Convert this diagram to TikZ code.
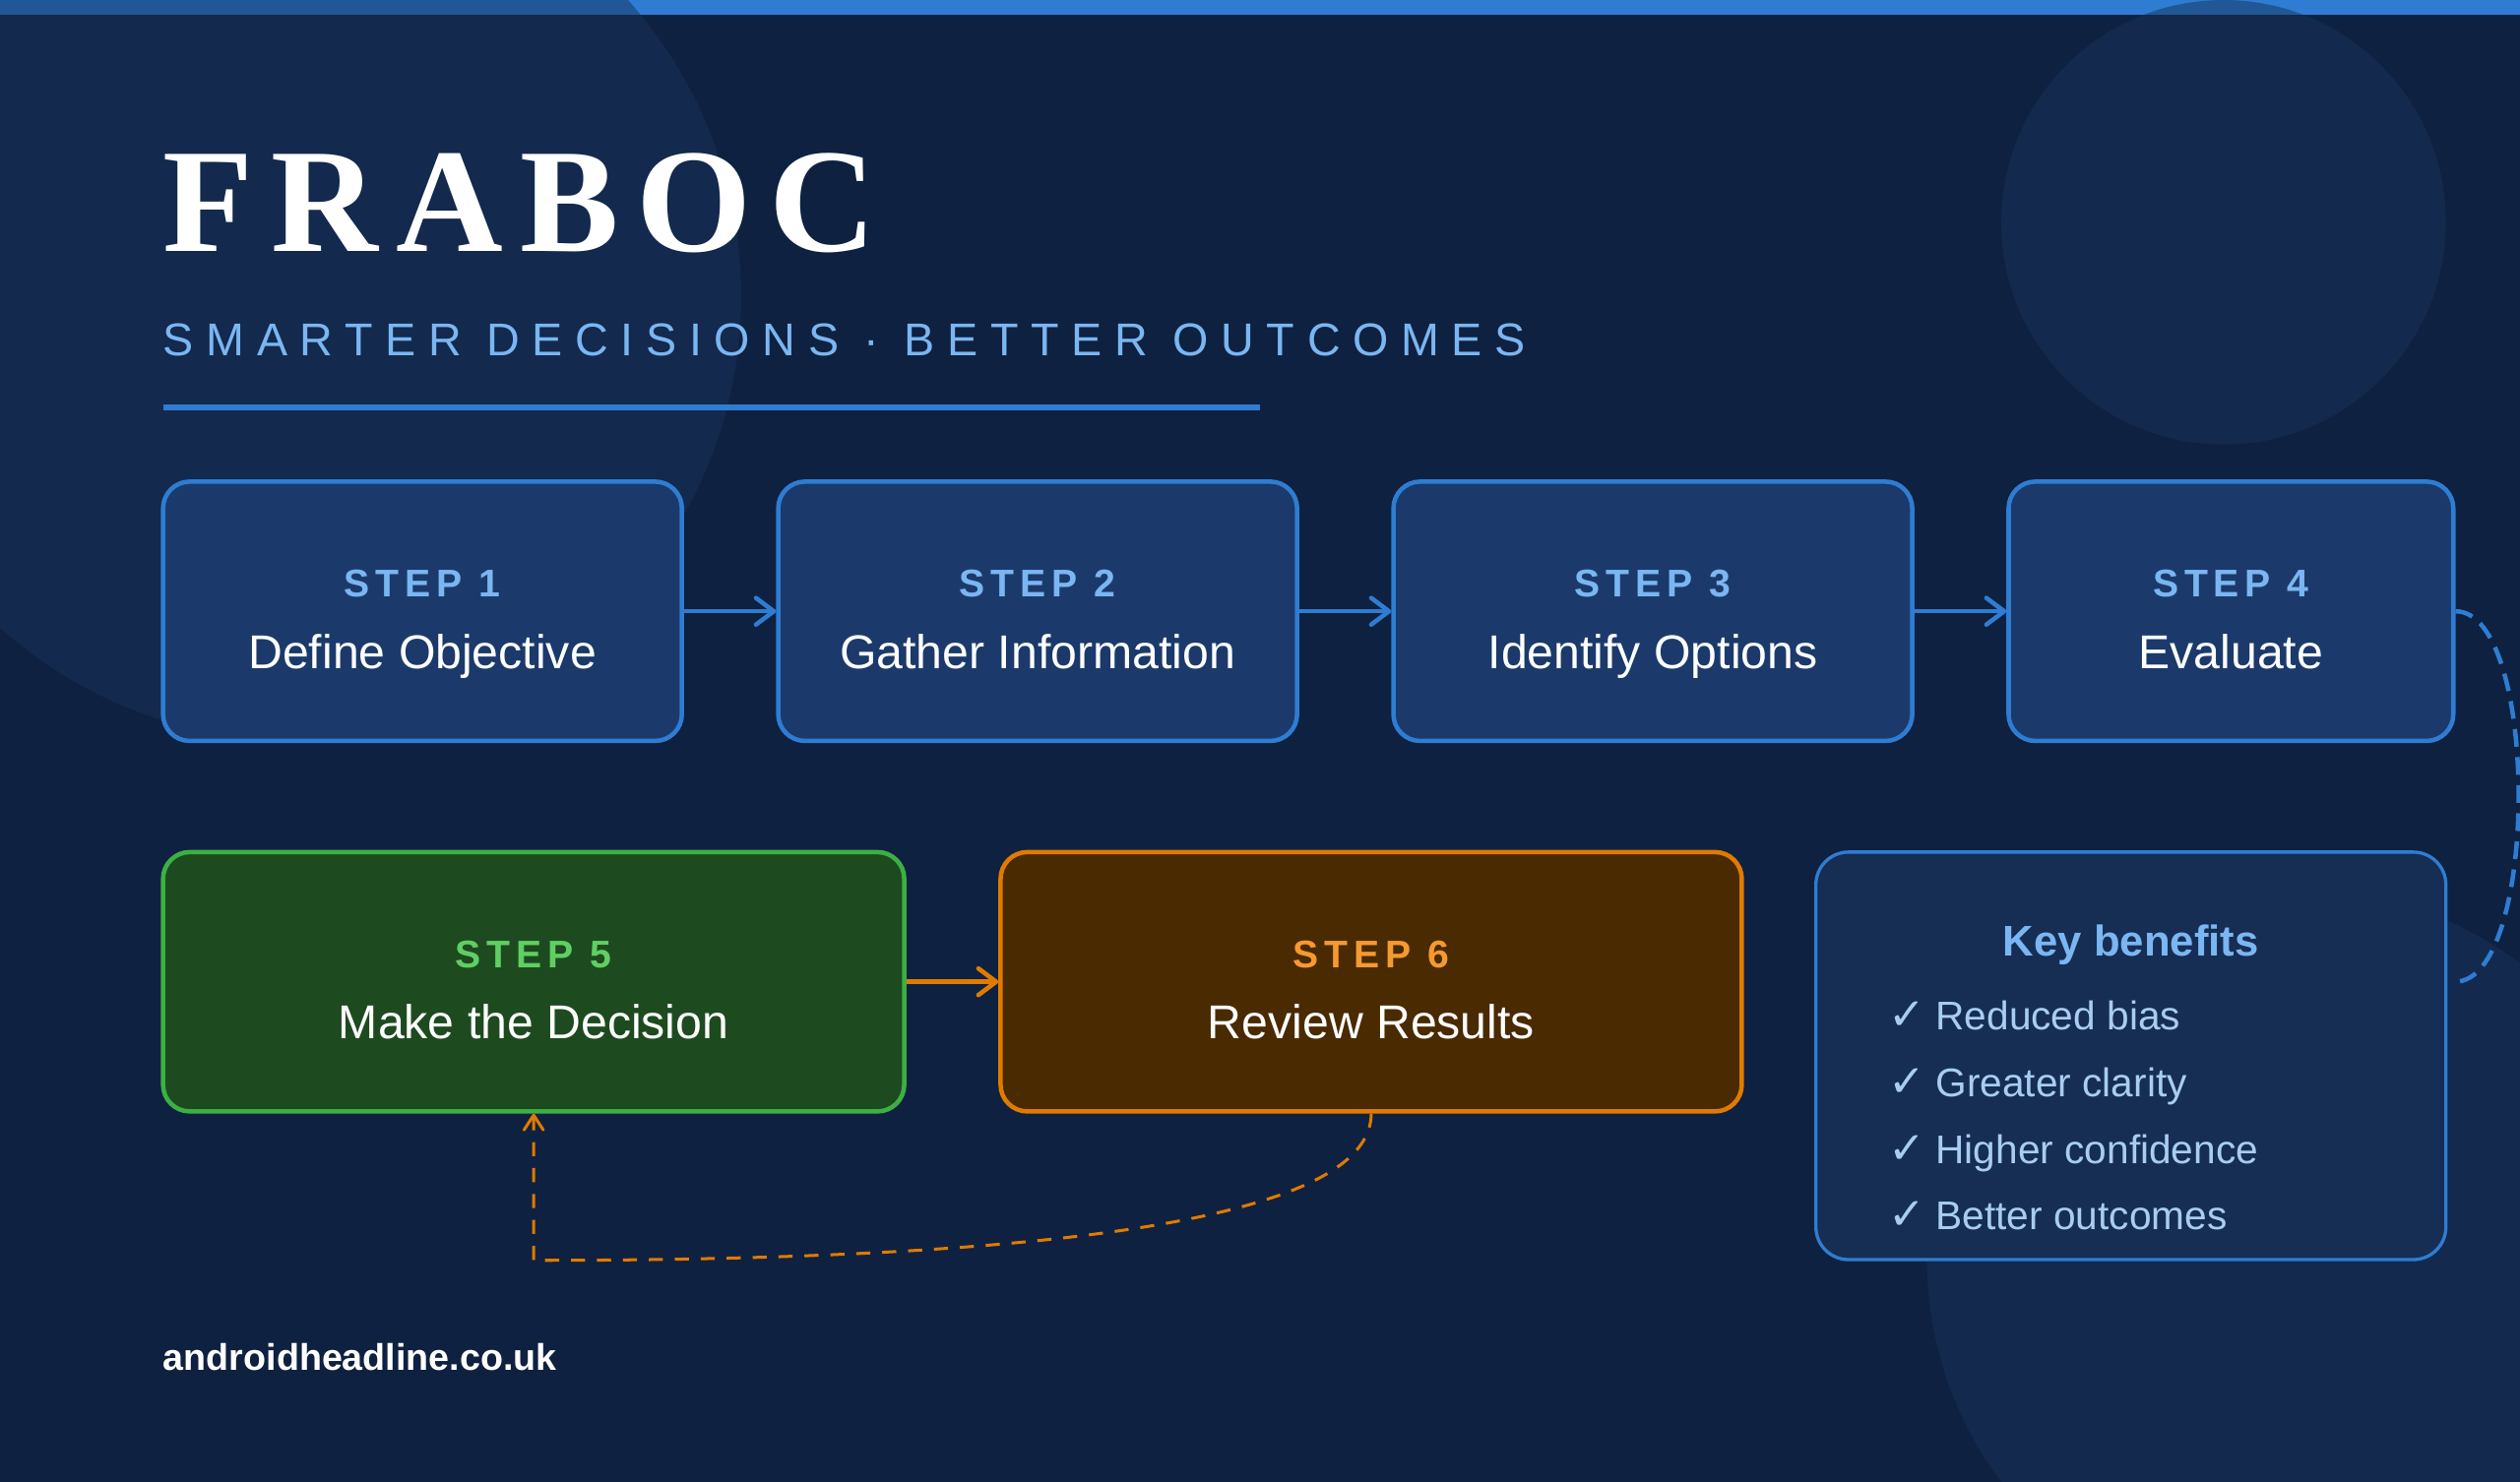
\documentclass[tikz,border=0pt]{standalone}
\usepackage{fontspec}
\setmainfont{Liberation Sans}
\newfontfamily\titlefont{Liberation Serif}
\newfontfamily\symfont{DejaVu Sans}
\usetikzlibrary{arrows.meta,calc}

\definecolor{bg}{RGB}{15,33,64}
\definecolor{accent}{RGB}{46,125,210}
\definecolor{circ}{RGB}{24,50,90}
\definecolor{boxfill}{RGB}{27,58,107}
\definecolor{lightblue}{RGB}{122,182,242}
\definecolor{listblue}{RGB}{168,205,240}
\definecolor{keyfill}{RGB}{22,45,84}
\definecolor{gfill}{RGB}{30,74,32}
\definecolor{gline}{RGB}{60,176,67}
\definecolor{gtext}{RGB}{95,207,99}
\definecolor{ofill}{RGB}{74,42,0}
\definecolor{oline}{RGB}{224,123,0}
\definecolor{otext}{RGB}{245,154,48}

\newcommand{\wgap}{\kern17pt\relax}
\newcommand{\chk}{{\symfont\fontsize{30}{32}\selectfont ✓}}

\begin{document}
\begin{tikzpicture}[x=1pt,y=-1pt,
  stepbox/.style={draw=accent, line width=3pt, fill=boxfill, rounded corners=18pt,
    minimum height=175pt, inner sep=0pt},
  keybox/.style={draw=accent, line width=2.2pt, fill=keyfill, rounded corners=22pt,
    minimum width=425pt, minimum height=275pt, inner sep=0pt},
  steplbl/.style={anchor=base, inner sep=0pt, text=lightblue,
    font=\bfseries\fontsize{26}{30}\selectfont\addfontfeature{LetterSpace=15}},
  steptxt/.style={anchor=base, inner sep=0pt, text=white,
    font=\fontsize{32}{38}\selectfont},
  itemtxt/.style={anchor=base west, inner sep=0pt, text=listblue,
    font=\fontsize{27}{32}\selectfont},
  flow/.style={line width=3pt, -{Straight Barb[length=12pt,width=18pt,round]}},
  bgcirc/.style={fill=circ, fill opacity=0.5}
]
\useasboundingbox (0,0) rectangle (1700,1000);
\fill[bg] (0,0) rectangle (1700,1000);
\fill[accent] (0,0) rectangle (1700,10);
\fill[bgcirc] (200,200) circle[radius=300];
\fill[bgcirc] (1500,150) circle[radius=150];
\fill[bgcirc] (1550,850) circle[radius=250];

% title
\node[anchor=base west, inner sep=0pt, text=white,
  font={\titlefont\bfseries\fontsize{100}{110}\selectfont\addfontfeature{LetterSpace=11.8}}]
  (title) at (110,170) {FRABOC};
\node[anchor=base west, inner sep=0pt, text=lightblue,
  font={\fontsize{31}{36}\selectfont\addfontfeature{LetterSpace=27}}]
  (sub) at (110,240) {SMARTER\wgap DECISIONS\wgap ·\wgap BETTER\wgap OUTCOMES};
\draw[accent, line width=3.5pt] (110,275) -- (850,275);

% boxes
\node[stepbox, minimum width=350pt] (s1) at (285,412.5) {};
\node[stepbox, minimum width=350pt] (s2) at (700,412.5) {};
\node[stepbox, minimum width=350pt] (s3) at (1115,412.5) {};
\node[stepbox, minimum width=300pt] (s4) at (1505,412.5) {};
\node[stepbox, minimum width=500pt, draw=gline, fill=gfill] (s5) at (360,662.5) {};
\node[stepbox, minimum width=500pt, draw=oline, fill=ofill] (s6) at (925,662.5) {};
\node[keybox] (kb) at (1437.5,712.5) {};

% box texts
\node[steplbl] (l1) at ($(s1.center)+(0,-9.5)$) {STEP 1};
\node[steptxt] (t1) at ($(s1.center)+(0,38.5)$) {Define Objective};
\node[steplbl] (l2) at ($(s2.center)+(0,-9.5)$) {STEP 2};
\node[steptxt] (t2) at ($(s2.center)+(0,38.5)$) {Gather Information};
\node[steplbl] (l3) at ($(s3.center)+(0,-9.5)$) {STEP 3};
\node[steptxt] (t3) at ($(s3.center)+(0,38.5)$) {Identify Options};
\node[steplbl] (l4) at ($(s4.center)+(0,-9.5)$) {STEP 4};
\node[steptxt] (t4) at ($(s4.center)+(0,38.5)$) {Evaluate};
\node[steplbl, text=gtext] (l5) at ($(s5.center)+(0,-9.5)$) {STEP 5};
\node[steptxt] (t5) at ($(s5.center)+(0,38.5)$) {Make the Decision};
\node[steplbl, text=otext] (l6) at ($(s6.center)+(0,-9.5)$) {STEP 6};
\node[steptxt] (t6) at ($(s6.center)+(0,38.5)$) {Review Results};

% key benefits
\node[anchor=base, inner sep=0pt, text=lightblue, font=\bfseries\fontsize{29}{34}\selectfont]
  (kbt) at (1437.5,645) {Key benefits};
\node[itemtxt] (b1) at (1274,695) {\chk\kern-1pt\ Reduced bias};
\node[itemtxt] (b2) at (1274,740) {\chk\kern-1pt\ Greater clarity};
\node[itemtxt] (b3) at (1274,785) {\chk\kern-1pt\ Higher confidence};
\node[itemtxt] (b4) at (1274,830) {\chk\kern-1pt\ Better outcomes};

% connectors
\draw[flow, accent] (s1) -- (s2);
\draw[flow, accent] (s2) -- (s3);
\draw[flow, accent] (s3) -- (s4);
\draw[flow, oline] (s5) -- (s6);

\coordinate (kbin) at ($(kb.east |- s6.center)+(5,0)$);
\draw[accent, line width=3pt, dash pattern=on 12pt off 7pt]
  (s4.east) .. controls +(57,0) and +(57,0) .. (kbin);

\coordinate (c5) at ($(s5.south)+(0,99)$);
\draw[oline, line width=2pt, dash pattern=on 9.5pt off 8pt,
  -{Straight Barb[length=10pt,width=13pt,round]}]
  (s6.south) .. controls +(0,66.7) and +(376.7,0) .. (c5) -- (s5.south);

% footer
\node[anchor=base west, inner sep=0pt, text=white, font=\bfseries\fontsize{25}{29}\selectfont]
  (foot) at (110,925) {androidheadline.co.uk};
\end{tikzpicture}
\end{document}
